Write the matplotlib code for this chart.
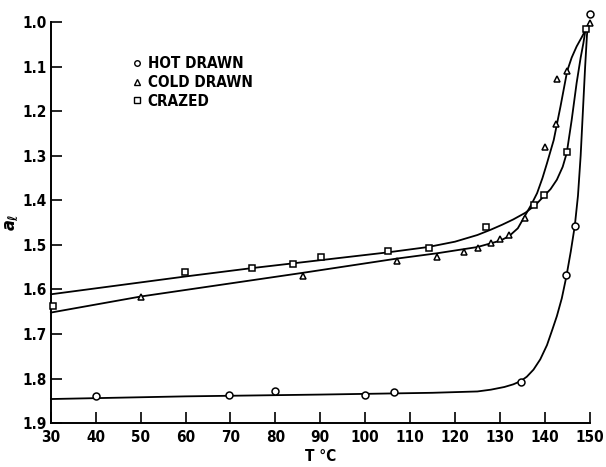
import numpy as np
import matplotlib
matplotlib.use('Agg')
import matplotlib.pyplot as plt
from matplotlib.lines import Line2D

# ---- Data ----
hot_t = [40, 69.6, 80, 100, 106.5, 134.6, 144.8, 146.7, 150]
hot_a = [1.839, 1.836, 1.828, 1.837, 1.830, 1.808, 1.567, 1.457, 0.982]

cold_t = [50.1, 86.2, 107, 116, 122, 125.1, 128.1, 130.1, 132, 135.7, 140, 142.4, 142.7, 145, 150]
cold_a = [1.616, 1.570, 1.536, 1.527, 1.517, 1.507, 1.496, 1.488, 1.478, 1.439, 1.280, 1.229, 1.128, 1.110, 1.003]

craz_t = [30.4, 59.8, 74.9, 84, 90.1, 105, 114.3, 127, 137.5, 139.9, 144.9, 149.1]
craz_a = [1.638, 1.561, 1.551, 1.543, 1.528, 1.515, 1.507, 1.459, 1.410, 1.388, 1.291, 1.016]

# hand-drawn fit curves
hot_curve_t = [30, 60, 90, 115, 125, 128, 131, 133, 134.6, 136, 137.5, 139, 140.5, 141.7, 142.7,
               143.8, 144.8, 145.8, 146.7, 147.4, 148, 148.5, 149, 149.4, 149.6]
hot_curve_a = [1.846, 1.840, 1.836, 1.832, 1.829, 1.825, 1.819, 1.813, 1.806, 1.796, 1.780, 1.757, 1.725, 1.690, 1.660,
               1.620, 1.572, 1.515, 1.457, 1.390, 1.300, 1.200, 1.100, 1.030, 1.010]

cold_curve_t = [30, 50, 86, 107, 116, 125, 130, 132, 134, 135.7, 137, 138.3, 139.5, 140.5, 142, 143.5,
                145, 146, 147.1, 148.2, 149.3, 150]
cold_curve_a = [1.652, 1.616, 1.563, 1.531, 1.519, 1.505, 1.491, 1.481, 1.463, 1.433, 1.410, 1.384, 1.350, 1.317, 1.265, 1.190,
                1.110, 1.080, 1.055, 1.035, 1.014, 1.000]

craz_curve_t = [30, 60, 75, 105, 114, 120, 125, 128, 130.5, 133, 135.7, 138, 139.7, 141.3, 142.7, 144,
                144.9, 146, 147.1, 148, 148.6, 149.1]
craz_curve_a = [1.611, 1.571, 1.552, 1.517, 1.505, 1.493, 1.478, 1.466, 1.455, 1.443, 1.428, 1.410, 1.392, 1.375, 1.354, 1.325,
                1.294, 1.220, 1.137, 1.080, 1.048, 1.016]

x_ticks = np.arange(30, 151, 10)
y_ticks = np.round(np.arange(1.0, 1.91, 0.1), 1)

# ---- Plot ----
plt.rcParams['font.family'] = ['DejaVu Sans']
plt.rcParams['font.stretch'] = 'condensed'
plt.rcParams['font.weight'] = 'bold'
plt.rcParams['axes.labelweight'] = 'bold'
fig = plt.figure(figsize=(6.06, 4.67), dpi=100)
ax = fig.add_axes([0.084, 0.094, 0.889, 0.859])

lw = 1.3
ax.plot(hot_curve_t, hot_curve_a, color='black', lw=lw, clip_on=False)
ax.plot(cold_curve_t, cold_curve_a, color='black', lw=lw, clip_on=False)
ax.plot(craz_curve_t, craz_curve_a, color='black', lw=lw, clip_on=False)

mk = dict(linestyle='none', mfc='white', mec='black', mew=1.1, clip_on=False, zorder=3)
ax.plot(hot_t, hot_a, marker='o', ms=5, **mk)
ax.plot(cold_t, cold_a, marker='^', ms=5, **mk)
ax.plot(craz_t, craz_a, marker='s', ms=5, **mk)

ax.set_xlim(30, 150)
ax.set_ylim(1.9, 1.0)
ax.set_xticks(x_ticks)
ax.set_yticks(y_ticks)
ax.set_xticklabels([str(t) for t in x_ticks])
ax.set_yticklabels(['%.1f' % v for v in y_ticks])

for side in ('top', 'right'):
    ax.spines[side].set_visible(False)
for side in ('left', 'bottom'):
    ax.spines[side].set_linewidth(1.4)
ax.tick_params(direction='in', length=8, width=1.2, labelsize=11, pad=3)
ax.tick_params(axis='x', pad=5)

ax.set_xlabel('T °C', fontsize=11, labelpad=3)
ax.set_ylabel(r'$a_{\ell}$', fontsize=13, labelpad=2)

handles = [
    Line2D([], [], marker='o', ms=4, linestyle='none', mfc='white', mec='black', mew=1.0),
    Line2D([], [], marker='^', ms=4, linestyle='none', mfc='white', mec='black', mew=1.0),
    Line2D([], [], marker='s', ms=4, linestyle='none', mfc='white', mec='black', mew=1.0),
]
ax.legend(handles, ['HOT DRAWN', 'COLD DRAWN', 'CRAZED'], loc='upper left',
          bbox_to_anchor=(0.14, 0.93), frameon=False, handlelength=0.6,
          handletextpad=0.4, labelspacing=0.25, borderaxespad=0,
          prop={'size': 11, 'weight': 'bold', 'stretch': 'condensed'})

fig.savefig('out.png', dpi=100)
